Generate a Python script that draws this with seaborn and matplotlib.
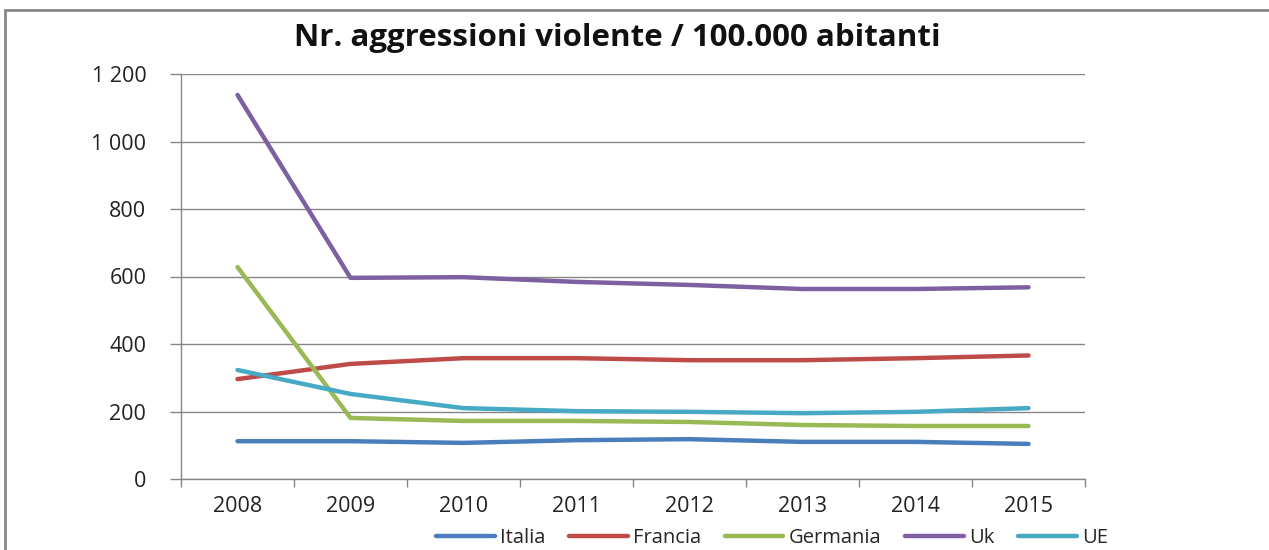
import numpy as np
import pandas as pd
import seaborn as sns
import matplotlib
matplotlib.use("Agg")
import matplotlib.pyplot as plt
from matplotlib.patches import Rectangle

years = ["2008", "2009", "2010", "2011", "2012", "2013", "2014", "2015"]
italia = [112, 112, 107, 115, 118, 110, 110, 104]
francia = [296, 341, 358, 358, 352, 352, 358, 366]
germania = [628, 181, 172, 172, 169, 160, 157, 157]
uk = [1138, 596, 598, 584, 575, 563, 563, 568]
ue = [323, 252, 210, 201, 199, 195, 199, 210]
series_names = ["Italia", "Francia", "Germania", "Uk", "UE"]
y_ticks = [0, 200, 400, 600, 800, 1000, 1200]
y_tick_labels = ["0", "200", "400", "600", "800", "1 000", "1 200"]
title = "Nr. aggressioni violente / 100.000 abitanti"

colors = ["#4A7EBB", "#BE4B48", "#98B954", "#7D60A0", "#46AAC5"]

df = pd.DataFrame({
    "year": years * 5,
    "value": italia + francia + germania + uk + ue,
    "series": sum([[n] * len(years) for n in series_names], []),
})

sns.set_theme(style="white")
plt.rcParams["font.family"] = ["Open Sans", "DejaVu Sans"]

fig = plt.figure(figsize=(12.69, 5.5), dpi=100)
ax = fig.add_axes([181 / 1269, 1 - 479 / 550, (1085 - 181) / 1269, (479 - 74) / 550])

sns.lineplot(data=df, x="year", y="value", hue="series", palette=colors,
             hue_order=series_names, linewidth=3.2, ax=ax, legend=False, sort=False)

ax.set_xlim(-0.5, len(years) - 0.5)
ax.set_ylim(0, 1200)
ax.set_yticks(y_ticks)
ax.set_yticklabels(y_tick_labels, fontsize=15.5, color="#222222")
ax.set_xticks(range(len(years)))
ax.set_xticklabels(years, fontsize=15.5, color="#222222")
ax.set_xticks(np.arange(-0.5, len(years), 1), minor=True)
ax.tick_params(axis="x", which="major", length=0, pad=12)
ax.tick_params(axis="x", which="minor", length=6, color="#868686", width=1, direction="out", bottom=True)
ax.tick_params(axis="y", length=8, color="#868686", width=1, direction="out", left=True, pad=17)
ax.set_xlabel("")
ax.set_ylabel("")
ax.grid(axis="y", color="#868686", linewidth=1)
ax.grid(axis="x", visible=False)
for s in ["top", "right"]:
    ax.spines[s].set_visible(False)
for s in ["left", "bottom"]:
    ax.spines[s].set_color("#868686")
    ax.spines[s].set_linewidth(1)
ax.set_axisbelow(True)

fig.text(617 / 1269, 1 - 38 / 550, title, ha="center", va="center",
         fontsize=22.5, fontweight="bold", color="#111111")

handles = [plt.Line2D([0], [0], color=c, linewidth=3.2) for c in colors]
fig.legend(handles, series_names, loc="center", bbox_to_anchor=(772 / 1269, 1 - 538 / 550),
           ncol=5, frameon=False, fontsize=14.5, handlelength=2.9, handletextpad=0.25,
           columnspacing=1.2)

fig.add_artist(Rectangle((5 / 1269, -0.05), 1.1, 1 - 10 / 550 + 0.05, transform=fig.transFigure,
                         fill=False, edgecolor="#868686", linewidth=2))

fig.savefig("out.png", dpi=100)
